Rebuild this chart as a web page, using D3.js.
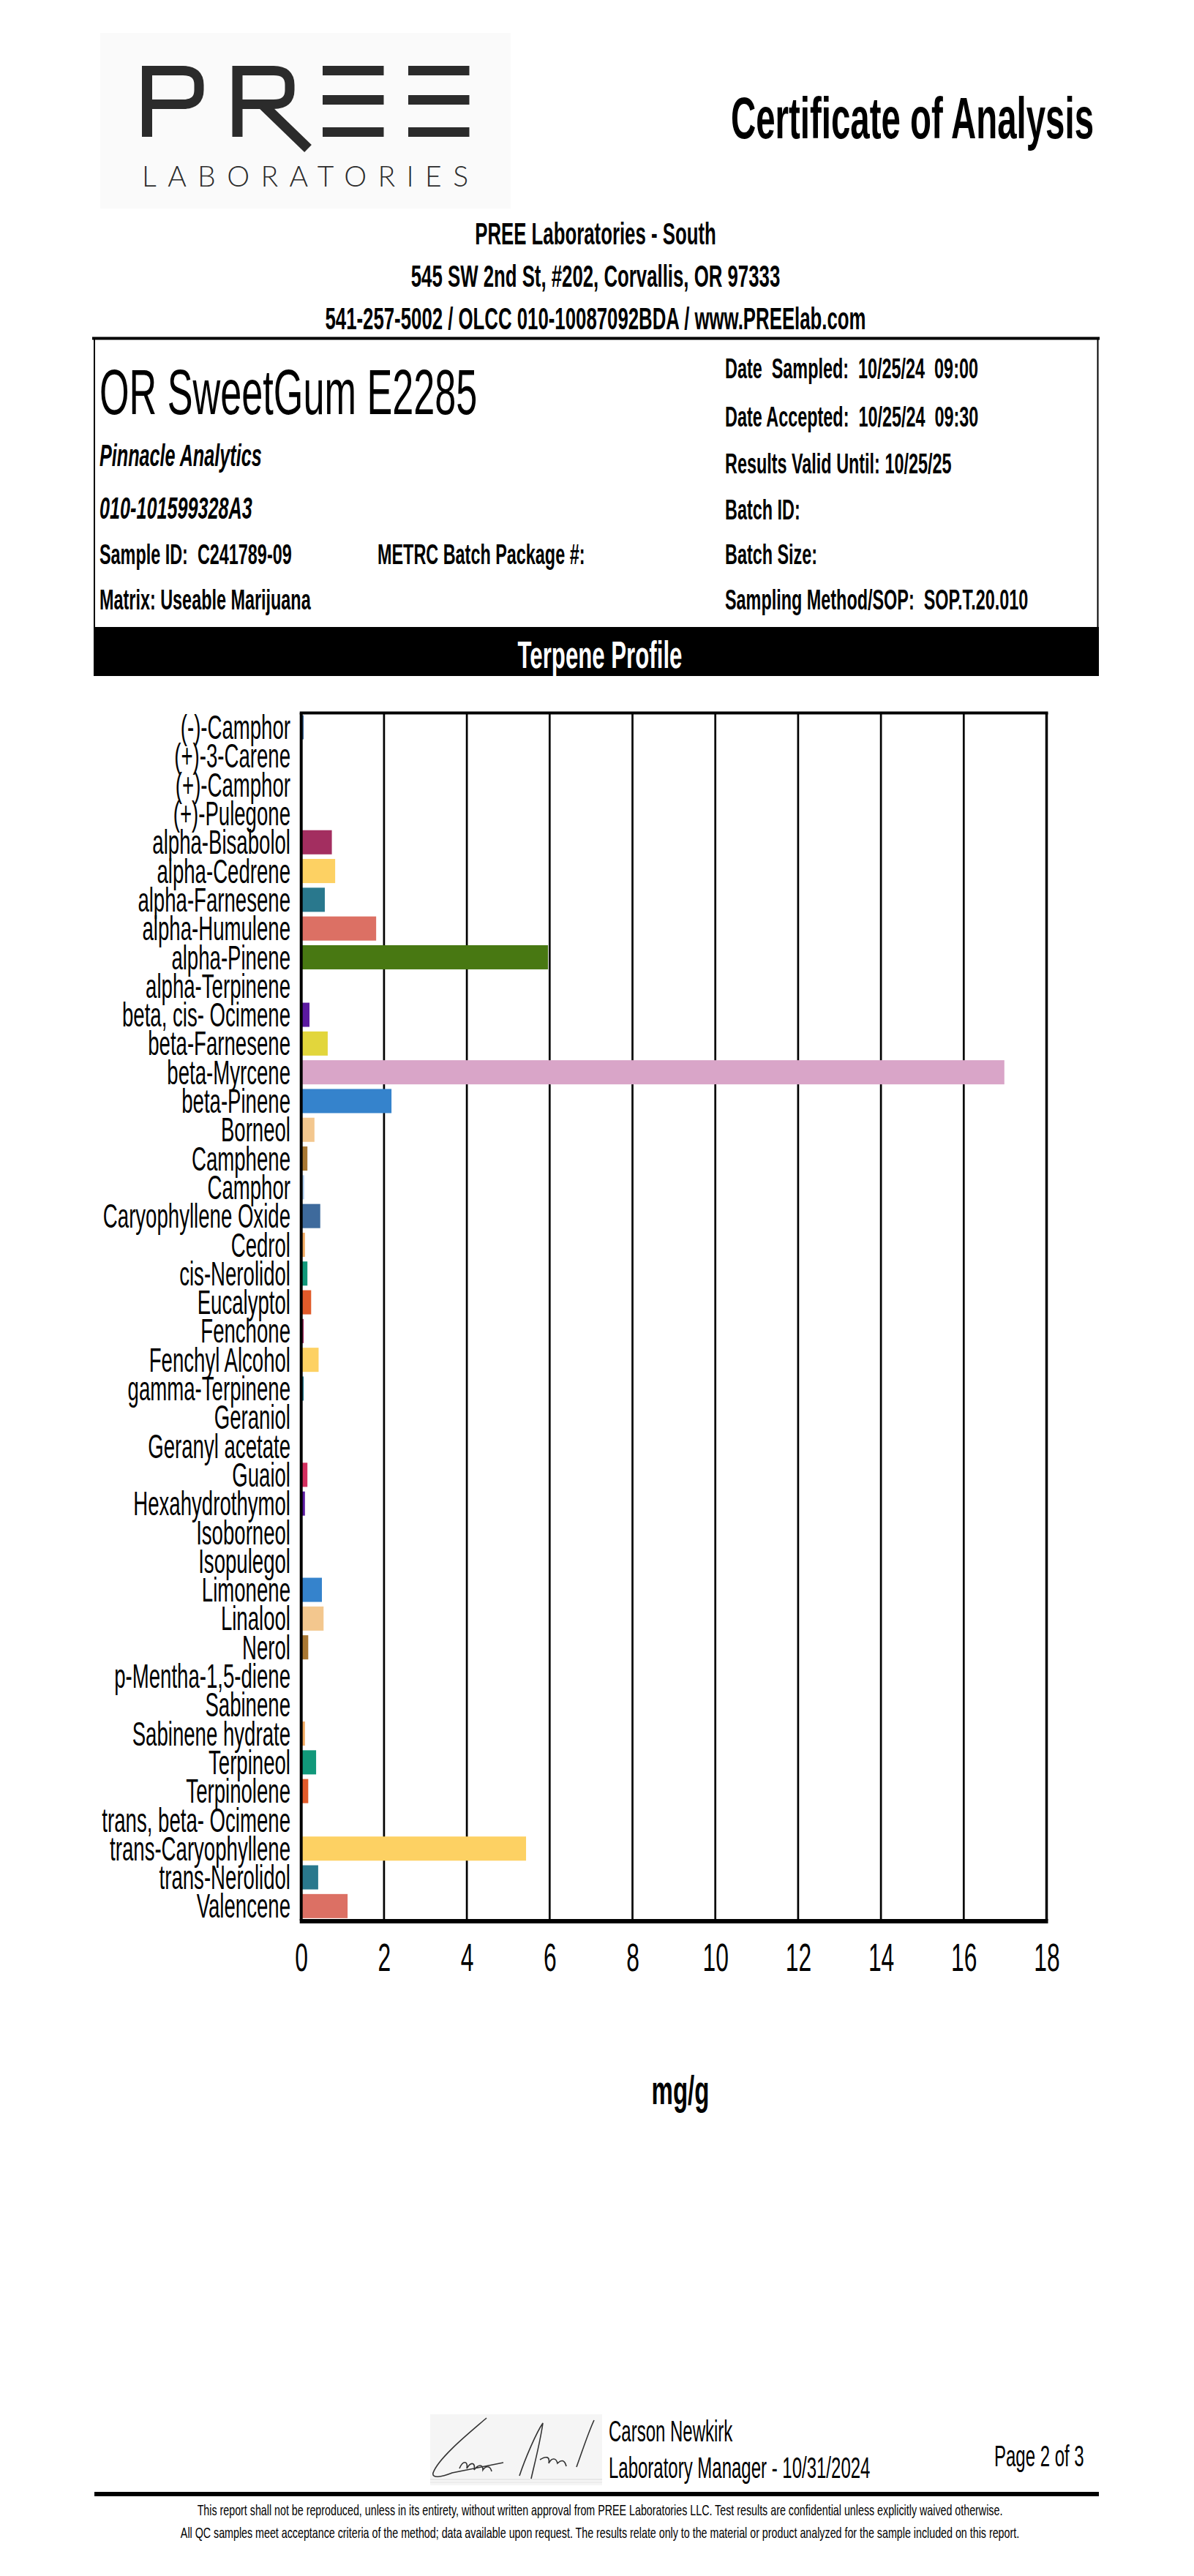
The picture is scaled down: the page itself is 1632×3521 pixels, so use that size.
<!DOCTYPE html>
<html>
<head>
<meta charset="utf-8">
<script src="https://cdn.jsdelivr.net/npm/d3@7"></script>
<style>
  body { margin: 0; background: #fff; }
  svg text { white-space: pre; }
</style>
</head>
<body>
<svg id="page" width="1632" height="3521"></svg>
<script>
"use strict";

// terpene names, top to bottom
var terpenes = ["(-)-Camphor","(+)-3-Carene","(+)-Camphor","(+)-Pulegone","alpha-Bisabolol","alpha-Cedrene",
	"alpha-Farnesene","alpha-Humulene","alpha-Pinene","alpha-Terpinene","beta, cis- Ocimene","beta-Farnesene",
	"beta-Myrcene","beta-Pinene","Borneol","Camphene","Camphor","Caryophyllene Oxide","Cedrol","cis-Nerolidol",
	"Eucalyptol","Fenchone","Fenchyl Alcohol","gamma-Terpinene","Geraniol","Geranyl acetate","Guaiol",
	"Hexahydrothymol","Isoborneol","Isopulegol","Limonene","Linalool","Nerol","p-Mentha-1,5-diene","Sabinene",
	"Sabinene hydrate","Terpineol","Terpinolene","trans, beta- Ocimene","trans-Caryophyllene","trans-Nerolidol","Valencene"];
// mg/g
var mgPerG = [0.06,0,0,0,0.74,0.82,0.57,1.81,5.96,0,0.2,0.64,16.98,2.18,0.32,0.15,0.07,0.46,0.09,0.15,
	0.24,0.06,0.42,0.06,0,0,0.15,0.09,0,0,0.5,0.54,0.17,0,0,0.09,0.36,0.17,0,5.43,0.41,1.12];
var xTicks = [0,2,4,6,8,10,12,14,16,18];
var barPalette = ["#3e6a9c","#f2aa62","#11987a","#e15b2a","#a32e60","#fdd163","#29788d","#dc7064","#487812",
	"#d42f5f","#5b1aa0","#e2d63c","#d9a5c8","#3583cc","#f3c78e","#a87834","#a9c9eb"];

var infoLeft = [
	["Pinnacle Analytics", 637, "italic"],
	["010-101599328A3", 709, "italic"],
	["Sample ID:  C241789-09", 771, "normal"],
	["Matrix: Useable Marijuana", 833, "normal"]
];
var infoRight = [
	["Date  Sampled:  10/25/24  09:00", 517],
	["Date Accepted:  10/25/24  09:30", 583],
	["Results Valid Until: 10/25/25", 647],
	["Batch ID:", 710],
	["Batch Size:", 771],
	["Sampling Method/SOP:  SOP.T.20.010", 833]
];

var SX = 0.6; // the whole page is squeezed horizontally
var FONT = "'Liberation Sans', Arial, sans-serif";

var svg = d3.select("#page").attr("font-family", FONT);
svg.append("rect").attr("width",1632).attr("height",3521).attr("fill","#fff");

function put(parent, str, x, y, size, o) {
	o = o || {};
	return parent.append("text")
		.attr("transform","translate("+x+","+y+") scale("+(o.sx||SX)+",1)")
		.attr("text-anchor", o.anchor || "start")
		.attr("font-size", size)
		.attr("font-weight", o.weight || "normal")
		.attr("font-style", o.style || "normal")
		.attr("fill", o.fill || "#000")
		.text(str);
}

// ---------- logo ----------
var logo = svg.append("g");
logo.append("rect").attr("x",137).attr("y",45).attr("width",561).attr("height",240).attr("fill","#fafafa");
var ink = "#2b2b2b";
logo.append("rect").attr("x",194).attr("y",90).attr("width",14).attr("height",97).attr("fill",ink);
logo.append("path").attr("d","M201,96.5 H250 Q272,96.5 272,116 V123 Q272,142.5 250,142.5 H201")
	.attr("fill","none").attr("stroke",ink).attr("stroke-width",13);
logo.append("rect").attr("x",317.5).attr("y",90).attr("width",14).attr("height",97).attr("fill",ink);
logo.append("path").attr("d","M325,96.5 H374 Q396,96.5 396,116 V123 Q396,142.5 374,142.5 H325")
	.attr("fill","none").attr("stroke",ink).attr("stroke-width",13);
logo.append("path").attr("d","M360,144 L421,203").attr("stroke",ink).attr("stroke-width",14);
[441,558].forEach(function(ex){
	[90,130,174].forEach(function(ey){
		logo.append("rect").attr("x",ex).attr("y",ey).attr("width",83.5).attr("height",13).attr("fill",ink);
	});
});
logo.append("text").attr("x",194).attr("y",255).attr("font-family","Lato, 'Open Sans', sans-serif")
	.attr("font-weight",300).attr("font-size",39).attr("fill",ink)
	.attr("textLength",446).attr("lengthAdjust","spacing").text("LABORATORIES");

// ---------- header ----------
put(svg, "Certificate of Analysis", 1495, 189, 79, {anchor:"end", weight:"bold"});
put(svg, "PREE Laboratories - South", 814, 334, 43, {anchor:"middle", weight:"bold"});
put(svg, "545 SW 2nd St, #202, Corvallis, OR 97333", 814, 392, 43, {anchor:"middle", weight:"bold"});
put(svg, "541-257-5002 / OLCC 010-10087092BDA / www.PREElab.com", 814, 450, 43, {anchor:"middle", weight:"bold"});

// ---------- info box ----------
var box = svg.append("g");
box.append("line").attr("x1",126).attr("x2",1503).attr("y1",462.5).attr("y2",462.5).attr("stroke","#000").attr("stroke-width",4);
box.append("line").attr("x1",129).attr("x2",129).attr("y1",462).attr("y2",858).attr("stroke","#000").attr("stroke-width",2);
box.append("line").attr("x1",1500.5).attr("x2",1500.5).attr("y1",462).attr("y2",858).attr("stroke","#000").attr("stroke-width",2);
box.append("rect").attr("x",128).attr("y",857).attr("width",1374).attr("height",67).attr("fill","#000");
put(box, "Terpene Profile", 820, 913, 52, {anchor:"middle", weight:"bold", fill:"#fff"});

put(box, "OR SweetGum E2285", 136, 566, 87);
infoLeft.forEach(function(r){
	put(box, r[0], 136, r[1], r[2]==="italic" ? 42 : 39, {weight:"bold", style:r[2]});
});
put(box, "METRC Batch Package #:", 516, 771, 39, {weight:"bold"});
infoRight.forEach(function(r){
	put(box, r[0], 991, r[1], 39, {weight:"bold"});
});

// ---------- chart ----------
var x = d3.scaleLinear().domain([0,18]).range([411.7,1430.5]);
var y = d3.scaleBand().domain(terpenes).range([974.4,2625]).paddingInner(0.16).paddingOuter(0.08);
var color = function(i){ return barPalette[i % barPalette.length]; };
var plotTop = y.range()[0], plotBottom = y.range()[1];

var chart = svg.append("g");
chart.selectAll(".grid").data(xTicks.slice(1,-1)).enter().append("line")
	.attr("class","grid")
	.attr("x1",function(d){ return x(d); }).attr("x2",function(d){ return x(d); })
	.attr("y1",plotTop).attr("y2",plotBottom)
	.attr("stroke","#000").attr("stroke-width",2.7);

chart.selectAll(".bar").data(terpenes).enter().append("rect")
	.attr("class","bar")
	.attr("x",x(0))
	.attr("y",function(d){ return y(d); })
	.attr("width",function(d,i){ return x(mgPerG[i]) - x(0); })
	.attr("height",y.bandwidth())
	.attr("fill",function(d,i){ return color(i); });

// frame
chart.append("line").attr("x1",x(0)-2).attr("x2",x(18)+2).attr("y1",plotTop).attr("y2",plotTop).attr("stroke","#000").attr("stroke-width",4);
chart.append("line").attr("x1",x(18)).attr("x2",x(18)).attr("y1",plotTop).attr("y2",plotBottom).attr("stroke","#000").attr("stroke-width",3.5);
chart.append("line").attr("x1",x(0)).attr("x2",x(0)).attr("y1",plotTop).attr("y2",plotBottom).attr("stroke","#000").attr("stroke-width",4);
chart.append("line").attr("x1",x(0)-2).attr("x2",x(18)+2).attr("y1",plotBottom+1).attr("y2",plotBottom+1).attr("stroke","#000").attr("stroke-width",6);

// category labels
var yAxis = chart.append("g").attr("transform","translate("+x(0)+",0)")
	.call(d3.axisLeft(y).tickSize(0).tickPadding(0));
yAxis.select(".domain").remove();
yAxis.attr("font-family",FONT).attr("font-size",46);
yAxis.selectAll("text")
	.attr("x",null).attr("dy","0.35em").attr("fill","#000")
	.attr("transform","translate(-14.7,0) scale("+SX+",1)");

// value labels
var xAxis = chart.append("g").attr("transform","translate(0,2694)")
	.call(d3.axisBottom(x).tickValues(xTicks).tickSize(0).tickPadding(0).tickFormat(d3.format("d")));
xAxis.select(".domain").remove();
xAxis.attr("font-family",FONT).attr("font-size",53);
xAxis.selectAll("text").attr("y",0).attr("dy",0).attr("fill","#000")
	.attr("transform","scale("+SX+",1)").attr("x",0);

put(chart, "mg/g", 930, 2876, 55, {anchor:"middle", weight:"bold"});

// ---------- footer ----------
var foot = svg.append("g");
var sig = foot.append("g").attr("transform","translate(588,3300)");
sig.append("rect").attr("width",235).attr("height",97).attr("fill","#f5f5f5");
sig.append("line").attr("x1",0).attr("x2",235).attr("y1",89).attr("y2",89).attr("stroke","#e2e2e2").attr("stroke-width",1.5);
sig.append("line").attr("x1",0).attr("x2",235).attr("y1",93).attr("y2",93).attr("stroke","#e8e8e8").attr("stroke-width",1.5);
sig.append("path")
	.attr("d","M77,5 C60,20 12,58 4,80 C2,88 15,86 30,80 L100,66 M40,74 c5,-12 12,-10 10,0 c6,-10 12,-8 10,2 c6,-8 12,-8 12,0 c4,-6 10,-6 12,2 M122,84 C130,60 145,25 154,12 C150,40 142,70 138,88 M150,62 c8,-5 14,-5 12,5 c4,-8 10,-8 12,0 c6,-6 10,-4 12,4 M200,72 C208,50 216,25 224,8")
	.attr("fill","none").attr("stroke","#333").attr("stroke-width",1.6);

put(foot, "Carson Newkirk", 832, 3337, 40);
put(foot, "Laboratory Manager - 10/31/2024", 832, 3387, 40);
put(foot, "Page 2 of 3", 1359, 3371, 40);
foot.append("line").attr("x1",129).attr("x2",1502).attr("y1",3409).attr("y2",3409).attr("stroke","#000").attr("stroke-width",6);
put(foot, "This report shall not be reproduced, unless in its entirety, without written approval from PREE Laboratories LLC. Test results are confidential unless explicitly waived otherwise.", 820, 3438, 21, {anchor:"middle", sx:0.68});
put(foot, "All QC samples meet acceptance criteria of the method; data available upon request. The results relate only to the material or product analyzed for the sample included on this report.", 820, 3469, 21, {anchor:"middle", sx:0.68});
</script>
</body>
</html>
